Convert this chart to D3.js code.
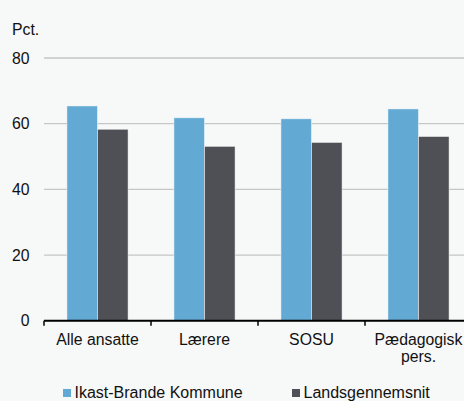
<!DOCTYPE html>
<html>
<head>
<meta charset="utf-8">
<script src="https://cdn.jsdelivr.net/npm/d3@7"></script>
<style>
  html, body { margin: 0; padding: 0; background: #f7f8f8; }
  svg { display: block; font-family: "Liberation Sans", Arial, sans-serif; }
</style>
</head>
<body>
<svg id="chart" width="464" height="401"></svg>
<script>
const categories = ["Alle ansatte", "Lærere", "SOSU", "Pædagogisk\npers."];
const seriesNames = ["Ikast-Brande Kommune", "Landsgennemsnit"];
const ikastBrande = [65.4, 61.8, 61.5, 64.5];
const landsgennemsnit = [58.3, 53.1, 54.3, 56.1];
const yTicks = [0, 20, 40, 60, 80];
const colors = ["#62a9d4", "#4f5055"];

(function () {
const svg = d3.select("#chart");
const W = 464, H = 401;
const fs = 15.8;
svg.append("rect").attr("width", W).attr("height", H).attr("fill", "#f7f8f8");

const mLeft = 44, mRight = 472, mTop = 58, mBottom = 320.8;

const x = d3.scaleBand().domain(categories).range([mLeft, mRight]).padding(0);
const xs = d3.scaleBand().domain(seriesNames).range([0, x.bandwidth()]).paddingInner(0).paddingOuter(0.75);
const y = d3.scaleLinear().domain([0, 80]).range([mBottom, mTop]);

// gridlines
svg.append("g").selectAll("line").data(yTicks.filter(d => d > 0)).join("line")
  .attr("x1", mLeft).attr("x2", W)
  .attr("y1", d => y(d)).attr("y2", d => y(d))
  .attr("stroke", "#c6c6c6").attr("stroke-width", 1.3);

// y tick labels
svg.append("g").selectAll("text").data(yTicks).join("text")
  .attr("x", 29.5).attr("y", d => y(d)).attr("dy", "0.35em")
  .attr("text-anchor", "end")
  .attr("font-size", fs).attr("fill", "#111")
  .text(d => d);

svg.append("text").attr("x", 12).attr("y", 35)
  .attr("font-size", fs).attr("fill", "#111").text("Pct.");

// bars
const data = seriesNames.map((s, i) => ({ name: s, values: i === 0 ? ikastBrande : landsgennemsnit, color: colors[i] }));
const gs = svg.append("g").selectAll("g").data(data).join("g").attr("fill", d => d.color);
gs.selectAll("rect").data(d => d.values.map((v, j) => ({ v, cat: categories[j], name: d.name }))).join("rect")
  .attr("x", d => x(d.cat) + xs(d.name))
  .attr("width", xs.bandwidth())
  .attr("y", d => y(d.v))
  .attr("height", d => y(0) - y(d.v))
  .attr("stroke", "rgba(255,255,255,0.6)").attr("stroke-width", 0.8);

// x axis
const axis = svg.append("g").attr("transform", `translate(0,${mBottom})`)
  .call(d3.axisBottom(x).tickSize(0).tickFormat(""));
axis.select(".domain").remove();
axis.append("line").attr("x1", mLeft).attr("x2", W).attr("y1", 0).attr("y2", 0)
  .attr("stroke", "#000").attr("stroke-width", 2);
const bounds = categories.map(c => x(c));
axis.selectAll(".tk").data(bounds).join("line").attr("class", "tk")
  .attr("x1", d => d).attr("x2", d => d).attr("y1", 0).attr("y2", 5)
  .attr("stroke", "#000").attr("stroke-width", 1.5);

// category labels
const lab = svg.append("g").selectAll("text").data(categories).join("text")
  .attr("x", d => x(d) + x.bandwidth() / 2)
  .attr("y", 345)
  .attr("text-anchor", "middle")
  .attr("font-size", fs).attr("fill", "#111");
lab.selectAll("tspan").data(d => d.split("\n")).join("tspan")
  .attr("x", function () { return d3.select(this.parentNode).attr("x"); })
  .attr("dy", (d, i) => i === 0 ? 0 : 16.5)
  .text(d => d);

// legend
const legX = [63, 292];
const leg = svg.append("g").selectAll("g").data(data).join("g")
  .attr("transform", (d, i) => `translate(${legX[i]},389)`);
leg.append("rect").attr("width", 8).attr("height", 8).attr("fill", d => d.color);
leg.append("text").attr("x", 11.5).attr("y", 9).attr("font-size", 16).attr("fill", "#111")
  .text(d => d.name);
})();
</script>
</body>
</html>
